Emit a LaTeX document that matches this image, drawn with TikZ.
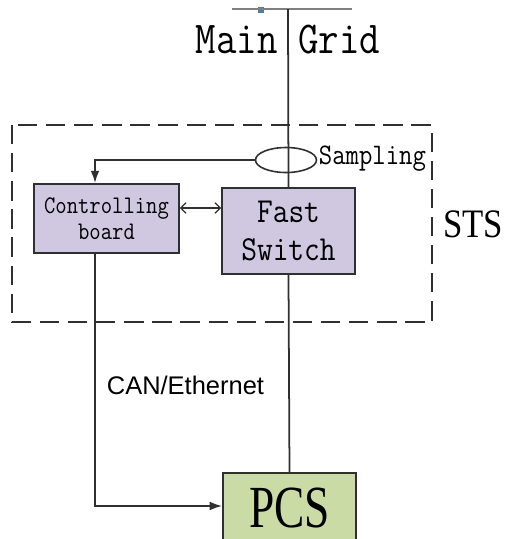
\documentclass[tikz,border=0pt]{standalone}
\usepackage{fontspec}
\usetikzlibrary{arrows.meta,shapes.geometric}
\newfontfamily\narrowmono[FakeStretch=0.87]{Latin Modern Mono}
\newfontfamily\stsfont[FakeStretch=0.86]{Liberation Serif}
\newfontfamily\pcsfont[FakeStretch=0.76]{Liberation Serif}
\newfontfamily\canfont{Liberation Sans}
\definecolor{boxpurple}{HTML}{D0C8E0}
\definecolor{boxgreen}{HTML}{CADBA6}
\definecolor{wire}{HTML}{303030}
\begin{document}
\begin{tikzpicture}[x=0.02cm, y=-0.02cm,
        line width=1pt, draw=wire,
        blk/.style={rectangle, draw=wire, line width=1.1pt, inner sep=0pt, align=center}]
        \useasboundingbox (0,0) rectangle (506,539);
        \clip (0,0) rectangle (506,539);

        \coordinate (grid) at (288, 9);
        \coordinate (busl) at (232, 9);
        \coordinate (busr) at (352, 9);
        \fill[color={rgb,255:red,79;green,122;blue,174}] (258, 7) rectangle (264, 13);
        \draw[gray, line width=0.6pt] (busl) -- (busr);

        \node (grid-txt) at (288, 40) [font=\narrowmono\fontsize{26}{30}\selectfont] {Main Grid};

        % STS box
        \draw[dash pattern=on 11pt off 5pt, line width=0.9pt] (12, 125) rectangle (432, 322);
        \node (sts) at (473, 224) [font=\stsfont\fontsize{23}{26}\selectfont] {STS};

        \node (samp) at (286, 160) [ellipse, draw=wire, line width=0.9pt, minimum width=1.22cm, minimum height=0.5cm, inner sep=0pt] {};
        \node (samp-txt) at (318, 159) [anchor=west, inner sep=0pt, font=\narrowmono\fontsize{17}{20}\selectfont] {Sampling};

        \node (ctrl) at (106.5, 218.5) [blk, fill=boxpurple, minimum width=2.9cm, minimum height=1.38cm, font=\narrowmono\fontsize{14.4}{14.7}\selectfont] {Controlling\\board};
        \node (fs) at (288.5, 231) [blk, fill=boxpurple, minimum width=2.66cm, minimum height=1.72cm, font=\narrowmono\fontsize{20}{22}\selectfont] {Fast\\Switch};
        \node (pcs) at (289.5, 508) [blk, fill=boxgreen, minimum width=2.66cm, minimum height=1.4cm, font=\pcsfont\fontsize{34}{36}\selectfont] {PCS};

        \node (can) at (106, 385) [anchor=west, inner sep=0pt, font=\canfont\fontsize{14.5}{17}\selectfont] {CAN/Ethernet};

        \draw (grid) -- (fs.north);
        \draw (fs.south) -- (pcs.north);

        \draw[-{Latex[length=7pt, width=5pt]}] (samp.west) -| ([xshift=-0.23cm]ctrl.north);
        \draw[{Straight Barb[length=3pt]}-{Straight Barb[length=3pt]}, line width=0.7pt] ([yshift=0.21cm]ctrl.east) -- ([yshift=0.21cm]ctrl.east -| fs.west);
        \draw[-{Latex[length=7pt, width=5pt]}] ([xshift=-0.23cm]ctrl.south) |- ([yshift=0.04cm]pcs.west);

    \end{tikzpicture}
\end{document}
